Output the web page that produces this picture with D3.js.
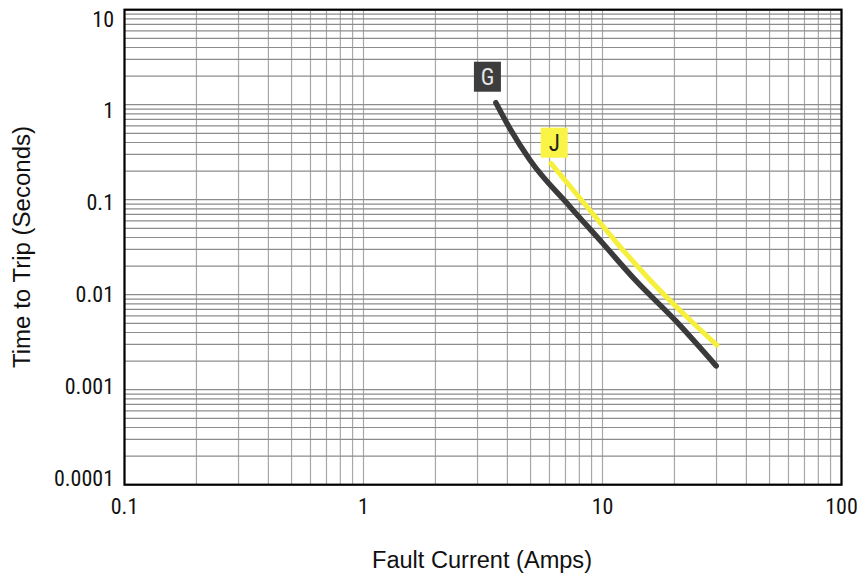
<!DOCTYPE html>
<html><head><meta charset="utf-8">
<script src="https://cdn.jsdelivr.net/npm/d3@7"></script>
<style>
html,body{margin:0;padding:0;background:#fff;}
text{font-family:"Roboto Condensed","Liberation Sans",sans-serif;}
.title{font-family:"Liberation Sans",Arial,sans-serif;}
</style></head>
<body>
<svg id="chart" width="859" height="575"></svg>
<script>
const xTicks = [0.1, 1, 10, 100];
const xTickLabels = ["0.1", "1", "10", "100"];
const yTicks = [0.0001, 0.001, 0.01, 0.1, 1, 10];
const yTickLabels = ["0.0001", "0.001", "0.01", "0.1", "1", "10"];

const curveGX = [3.58, 4.1, 4.97, 7.31, 10, 13.7, 20.4, 29.9];
const curveGY = [1.05, 0.56, 0.262, 0.0844, 0.035, 0.0143, 0.0052, 0.00178];
const curveJX = [6.09, 8.72, 11.5, 15.8, 24, 30.1];
const curveJY = [0.241, 0.0813, 0.035, 0.0143, 0.00501, 0.00295];

const seriesNames = ["G", "J"];
const labelX = [3.30, 6.28];
const labelY = [1.97, 0.398];

const xTitle = "Fault Current (Amps)";
const yTitle = "Time to Trip (Seconds)";

const svg = d3.select("#chart");
const L = 124.5, R = 841.5, T = 9.7, B = 484.7;
const x = d3.scaleLog().domain([0.1, 100]).range([L, R]);
const y = d3.scaleLog().domain([0.0001, 10]).range([B, T]);
const yLab = d3.scaleLog().domain([0.0001, 10]).range([478, 19]);

function gridVals(lo, hi) {
  const v = [];
  for (let d = lo; d < hi * 0.999; d *= 10) {
    for (let k = 1; k <= 9; k++) v.push(d * k);
  }
  v.push(hi);
  return v;
}
const gx = svg.append("g");
gridVals(0.1, 100).forEach(v => {
  gx.append("line").attr("x1", x(v)).attr("x2", x(v)).attr("y1", T).attr("y2", B)
    .attr("stroke", "#a8a8a8").attr("stroke-width", 1.2);
});
gridVals(0.0001, 10).forEach(v => {
  gx.append("line").attr("x1", L).attr("x2", R).attr("y1", y(v)).attr("y2", y(v))
    .attr("stroke", "#8c8c8c").attr("stroke-width", 1.2);
});

svg.append("rect").attr("x", L).attr("y", T).attr("width", R - L).attr("height", B - T)
  .attr("fill", "none").attr("stroke", "#000").attr("stroke-width", 2.2);

svg.append("g").selectAll("text").data(xTicks).join("text")
  .attr("x", d => x(d)).attr("y", 506).attr("text-anchor", "middle")
  .attr("dominant-baseline", "central").attr("font-size", 22).attr("fill", "#111")
  .text((d, i) => xTickLabels[i]);
svg.append("g").selectAll("text").data(yTicks).join("text")
  .attr("x", 114).attr("y", d => yLab(d)).attr("text-anchor", "end")
  .attr("dominant-baseline", "central").attr("font-size", 22).attr("fill", "#111")
  .text((d, i) => yTickLabels[i]);

svg.append("text").attr("class", "title").attr("x", 482).attr("y", 560).attr("text-anchor", "middle")
  .attr("dominant-baseline", "central").attr("font-size", 23.5).attr("fill", "#111")
  .attr("textLength", 220).attr("lengthAdjust", "spacingAndGlyphs").text(xTitle);
svg.append("text").attr("class", "title").attr("transform", "translate(22,247) rotate(-90)").attr("text-anchor", "middle")
  .attr("dominant-baseline", "central").attr("font-size", 23.5).attr("fill", "#111")
  .attr("textLength", 242).attr("lengthAdjust", "spacingAndGlyphs").text(yTitle);

const line = d3.line().x(d => x(d[0])).y(d => y(d[1])).curve(d3.curveMonotoneX);
const gData = curveGX.map((v, i) => [v, curveGY[i]]);
const jData = curveJX.map((v, i) => [v, curveJY[i]]);
svg.append("path").attr("d", line(jData)).attr("fill", "none").attr("stroke", "#f6f03c")
  .attr("stroke-width", 5).attr("stroke-linecap", "round");
svg.append("path").attr("d", line(gData)).attr("fill", "none").attr("stroke", "#3a3a3a")
  .attr("stroke-width", 5.5).attr("stroke-linecap", "round");

const boxFill = ["#3d3d3d", "#faf447"];
const textFill = ["#e6e6e6", "#222"];
seriesNames.forEach((n, i) => {
  const cx = x(labelX[i]), cy = y(labelY[i]);
  svg.append("rect").attr("x", cx - 13.5).attr("y", cy - 15).attr("width", 27).attr("height", 30)
    .attr("fill", boxFill[i]);
  svg.append("text").attr("x", cx).attr("y", cy + 1).attr("text-anchor", "middle")
    .attr("dominant-baseline", "central").attr("font-size", 23).attr("fill", textFill[i]).text(n);
});
</script>
</body></html>
